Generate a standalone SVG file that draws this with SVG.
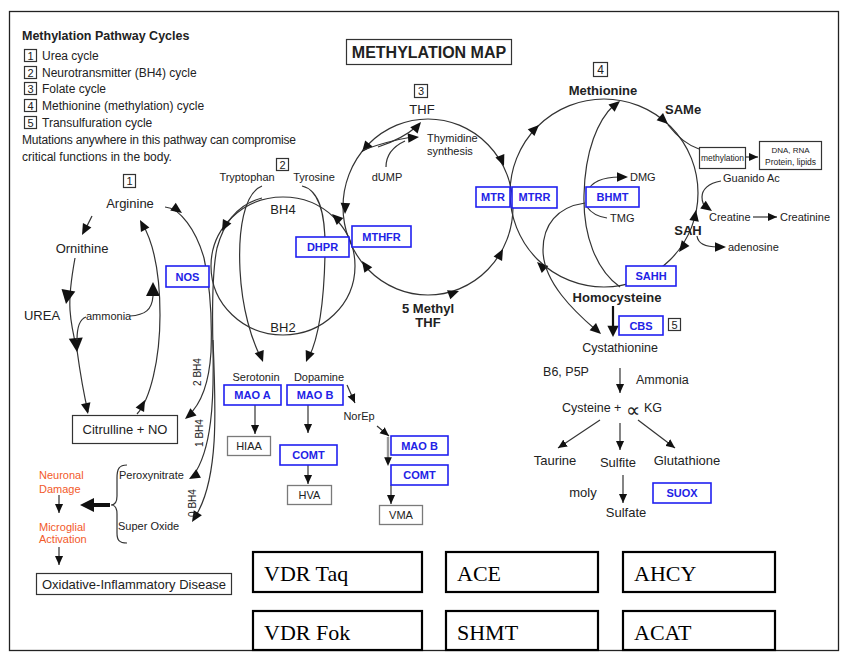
<svg xmlns="http://www.w3.org/2000/svg" xmlns:xlink="http://www.w3.org/1999/xlink" width="849" height="660" viewBox="0 0 849 660">
<style>
text{font-family:"Liberation Sans",Arial,"DejaVu Sans",sans-serif;fill:#222}
.s10{font-size:10px}.s11{font-size:11px}.s12{font-size:12px}.s13{font-size:13px}
.b{font-weight:bold}.c{text-anchor:middle}
.bx{fill:#fff;stroke:#2020f0;stroke-width:1.6}
.bt{font-size:11px;font-weight:bold;fill:#2222e6;text-anchor:middle}
.gb{fill:#fff;stroke:#7a7a7a;stroke-width:1.3}
.kb{fill:#fff;stroke:#333;stroke-width:1.2}
.ln{fill:none;stroke:#333;stroke-width:1.2}
.big{font-family:"Liberation Serif","Times New Roman",serif;font-size:22px;fill:#000}
.bb{fill:#fff;stroke:#000;stroke-width:2.2}
.org{fill:#f25a2a;font-size:11px}
</style>
<defs>
<path id="ah" d="M0,0 L-11,-4.8 L-11,4.8 Z" fill="#111"/>
<path id="ahb" d="M0,0 L-14,-7 L-14,7 Z" fill="#111"/>
<marker id="ar" viewBox="0 0 10 10" refX="10" refY="5" markerWidth="9" markerHeight="9" markerUnits="userSpaceOnUse" orient="auto"><path d="M0,0.5 L10,5 L0,9.5 Z" fill="#111"/></marker>
</defs>
<rect x="9.5" y="11.5" width="829" height="639" fill="none" stroke="#222" stroke-width="1.3"/>

<g id="legend">
<text x="22" y="40" class="b" style="font-size:12.5px">Methylation Pathway Cycles</text>
<rect x="24.5" y="49.5" width="12" height="12" class="kb"/><text x="30.5" y="59.5" class="c s11">1</text><text x="42" y="59.5" class="s12">Urea cycle</text>
<rect x="24.5" y="66.5" width="12" height="12" class="kb"/><text x="30.5" y="76.5" class="c s11">2</text><text x="42" y="76.5" class="s12">Neurotransmitter (BH4) cycle</text>
<rect x="24.5" y="82.5" width="12" height="12" class="kb"/><text x="30.5" y="92.5" class="c s11">3</text><text x="42" y="92.5" class="s12">Folate cycle</text>
<rect x="24.5" y="99.5" width="12" height="12" class="kb"/><text x="30.5" y="109.5" class="c s11">4</text><text x="42" y="109.5" class="s12">Methionine (methylation) cycle</text>
<rect x="24.5" y="116.5" width="12" height="12" class="kb"/><text x="30.5" y="126.5" class="c s11">5</text><text x="42" y="126.5" class="s12">Transulfuration cycle</text>
<text x="22" y="144" class="s12" textLength="274">Mutations anywhere in this pathway can compromise</text>
<text x="22" y="161" class="s12">critical functions in the body.</text>
</g>

<g id="title"><rect x="346.5" y="39.5" width="165" height="25" class="kb"/><text x="429" y="58" class="c b" style="font-size:16px">METHYLATION MAP</text></g>

<g id="connectors">
<ellipse cx="283" cy="266" rx="72" ry="69" class="ln"/>
<ellipse cx="428" cy="207" rx="85" ry="88" class="ln"/>
<circle cx="604" cy="193" r="94" class="ln"/>
<path d="M92,216 Q88,224 85,230" class="ln"/>
<use href="#ah" transform="translate(82 235) rotate(118)"/>
<path d="M75,258 C71,280 69,295 70,310 C71,325 74,338 77,350 C80,372 84,395 88,412" class="ln"/>
<use href="#ahb" transform="translate(66 304) rotate(100)"/>
<use href="#ahb" transform="translate(77 352) rotate(85)"/>
<use href="#ah" transform="translate(88 414) rotate(78)"/>
<path d="M77,340 C77,326 80,319 86,317" class="ln"/>
<path d="M130,316 C145,315 152,310 153,296 L153,285" class="ln"/>
<use href="#ahb" transform="translate(153 282) rotate(-90)"/>
<path d="M137,414 C150,400 160,360 160,315 C160,270 152,240 142,223" class="ln"/>
<use href="#ah" transform="translate(145 400) rotate(-62)"/>
<use href="#ah" transform="translate(140 220) rotate(-118)"/>
<path d="M165,207 C180,208 196,230 204,258 C211,290 212,325 211,352 C209,385 200,405 188,416" class="ln"/>
<use href="#ah" transform="translate(182 213) rotate(35)"/>
<use href="#ah" transform="translate(185 419) rotate(140)"/>
<path d="M262,198 C238,204 224,222 217,248 C212,272 212,310 213,350 C214,400 212,450 193,476" class="ln"/>
<use href="#ah" transform="translate(222 231) rotate(118)"/>
<use href="#ah" transform="translate(189 479) rotate(150)"/>
<path d="M213,340 C216,410 219,480 195,517" class="ln"/>
<use href="#ah" transform="translate(192 522) rotate(122)"/>
<use href="#ah" transform="translate(332 214) rotate(-137)"/>
<path d="M262,186 C244,193 238,230 240,270 C242,310 252,340 260,356" class="ln"/>
<use href="#ah" transform="translate(263 362) rotate(70)"/>
<path d="M302,186 C320,190 326,215 325,255 C324,300 320,335 309,357" class="ln"/>
<use href="#ah" transform="translate(306 362) rotate(112)"/>
<use href="#ah" transform="translate(345 214) rotate(92)"/>
<use href="#ah" transform="translate(362 152) rotate(129)"/>
<use href="#ah" transform="translate(504 166) rotate(68)"/>
<use href="#ah" transform="translate(503 249) rotate(-62)"/>
<use href="#ah" transform="translate(459 291) rotate(-20)"/>
<use href="#ah" transform="translate(362 261) rotate(-125)"/>
<path d="M363,150 C385,142 400,139 412,137" class="ln"/>
<use href="#ah" transform="translate(419 137) rotate(-5)"/>
<path d="M386,167 C386,155 392,147 405,141" class="ln"/>
<path d="M378,147 C396,141 408,134 416,127" class="ln"/>
<use href="#ah" transform="translate(421 122) rotate(-50)"/>
<use href="#ah" transform="translate(539 125) rotate(-44)"/>
<path d="M620,287 C596,270 583,235 584,195 C585,150 598,120 614,105" class="ln"/>
<use href="#ah" transform="translate(620 101) rotate(-40)"/>
<use href="#ah" transform="translate(668 124) rotate(42)"/>
<use href="#ah" transform="translate(696 210) rotate(-80)"/>
<use href="#ah" transform="translate(679 252) rotate(127)"/>
<use href="#ah" transform="translate(537 262) rotate(-137)"/>
<path d="M668,125 C680,140 690,146 699,149" class="ln"/>
<path d="M745,157 L758,157" class="ln" marker-end="url(#ar)"/>
<path d="M721,181 C708,183 702,190 702,197 C702,203 704,206 707,208" class="ln"/>
<use href="#ah" transform="translate(712 211) rotate(35)"/>
<path d="M753,217 L777,217" class="ln" marker-end="url(#ar)"/>
<path d="M697,236 C698,244 705,247 718,247" class="ln"/>
<use href="#ah" transform="translate(726 247)"/>
<path d="M587,192 C592,180 605,177 620,177" class="ln"/>
<use href="#ah" transform="translate(628 177)"/>
<path d="M587,207 C592,214 600,217 607,218" class="ln"/>
<path d="M585,203 C557,207 543,225 543,250 C543,282 575,312 596,330" class="ln"/>
<use href="#ah" transform="translate(601 334) rotate(42)"/>
<path d="M613,306 L613,326" fill="none" stroke="#111" stroke-width="2.2"/>
<use href="#ahb" transform="translate(613 337) rotate(90) scale(0.8)"/>
<path d="M620,368 L620,393" class="ln" marker-end="url(#ar)"/>
<path d="M600,420 L558,448" class="ln" marker-end="url(#ar)"/>
<path d="M620,423 L620,450" class="ln" marker-end="url(#ar)"/>
<path d="M638,420 L675,448" class="ln" marker-end="url(#ar)"/>
<path d="M623,475 L623,503" class="ln" marker-end="url(#ar)"/>
<path d="M255,405 L255,434" class="ln" marker-end="url(#ar)"/>
<path d="M308,405 L308,433" class="ln" marker-end="url(#ar)"/>
<path d="M308,465 L308,484" class="ln" marker-end="url(#ar)"/>
<path d="M347,385 L355,403" class="ln" marker-end="url(#ar)"/>
<path d="M377,426 L389,436" class="ln" marker-end="url(#ar)"/>
<path d="M388,437 L388,463" fill="none" stroke="#999" stroke-width="2.4"/>
<use href="#ah" transform="translate(388 466) rotate(90) scale(0.8)"/>
<path d="M391,485 L391,504" class="ln" marker-end="url(#ar)"/>
<path d="M127,465 C119,465 117,469 117,478 L117,496 C117,502 115,505 111,505 C115,505 117,508 117,514 L117,533 C117,540 119,543 127,543" class="ln"/>
<path d="M110,505 L92,505" fill="none" stroke="#111" stroke-width="4"/>
<use href="#ahb" transform="translate(80 505) rotate(180)"/>
<path d="M59,495 L59,513" class="ln" marker-end="url(#ar)"/>
<path d="M59,547 L59,565" class="ln" marker-end="url(#ar)"/>
</g>

<g id="urea-cycle">
<rect x="123.5" y="174.5" width="12" height="13" class="kb"/><text x="129.5" y="185" class="c s11">1</text>
<text x="130" y="208" class="c s13">Arginine</text>
<text x="82" y="253" class="c s13">Ornithine</text>
<text x="42" y="320" class="c s13">UREA</text>
<text x="86" y="320" class="s11">ammonia</text>
</g>
<g id="nos"><rect x="166" y="266" width="43" height="21" class="bx"/><text x="187.5" y="281" class="bt">NOS</text></g>
<g id="citrulline"><rect x="72.5" y="415.5" width="105" height="28" class="kb"/><text x="125" y="434" class="c s13">Citrulline + NO</text></g>
<g id="bh4-labels">
<text transform="translate(201 372) rotate(-90)" class="c s10">2 BH4</text>
<text transform="translate(203 433) rotate(-90)" class="c s10">1 BH4</text>
<text transform="translate(196 503) rotate(-90)" class="c s10">0 BH4</text>
</g>
<g id="oxidative">
<text x="119" y="479" class="s11">Peroxynitrate</text>
<text x="118" y="530" class="s11">Super Oxide</text>
<text x="39" y="479" class="org">Neuronal</text>
<text x="39" y="493" class="org">Damage</text>
<text x="39" y="531" class="org">Microglial</text>
<text x="39" y="543" class="org">Activation</text>
</g>
<g id="disease"><rect x="36.5" y="573.5" width="195" height="21" class="kb"/><text x="134" y="589" class="c s13">Oxidative-Inflammatory Disease</text></g>

<g id="bh4-cycle">
<rect x="276.5" y="158.5" width="12" height="12" class="kb"/><text x="282.5" y="168.5" class="c s11">2</text>
<text x="247" y="181" class="c s11">Tryptophan</text>
<text x="314" y="181" class="c s11">Tyrosine</text>
<text x="283" y="214" class="c s13">BH4</text>
<text x="283" y="332" class="c s13">BH2</text>
</g>
<g id="dhpr"><rect x="296" y="237" width="53" height="20" class="bx"/><text x="322.5" y="251" class="bt">DHPR</text></g>
<g id="mthfr"><rect x="352" y="226" width="59" height="21" class="bx"/><text x="381.5" y="241" class="bt">MTHFR</text></g>
<g id="neuro">
<text x="256" y="381" class="c s11">Serotonin</text>
<text x="319" y="381" class="c s11">Dopamine</text>
<text x="359" y="420" class="c s11">NorEp</text>
</g>
<g id="mao-a"><rect x="224" y="385" width="57" height="20" class="bx"/><text x="252.5" y="399" class="bt">MAO A</text></g>
<g id="mao-b"><rect x="287" y="385" width="56" height="20" class="bx"/><text x="315" y="399" class="bt">MAO B</text></g>
<g id="hiaa"><rect x="227.5" y="436.5" width="43" height="19" class="gb"/><text x="249" y="450" class="c s11">HIAA</text></g>
<g id="comt"><rect x="280" y="445" width="57" height="20" class="bx"/><text x="308.5" y="459" class="bt">COMT</text></g>
<g id="hva"><rect x="287.5" y="485.5" width="44" height="19" class="gb"/><text x="309.5" y="499" class="c s11">HVA</text></g>
<g id="mao-b2"><rect x="391" y="436" width="57" height="19" class="bx"/><text x="419.5" y="450" class="bt">MAO B</text></g>
<g id="comt2"><rect x="391" y="465" width="57" height="20" class="bx"/><text x="419.5" y="479" class="bt">COMT</text></g>
<g id="vma"><rect x="379.5" y="505.5" width="43" height="19" class="gb"/><text x="401" y="519" class="c s11">VMA</text></g>

<g id="folate-cycle">
<rect x="414.5" y="84.5" width="13" height="13" class="kb"/><text x="421" y="95" class="c s11">3</text>
<text x="422" y="114" class="c s13">THF</text>
<text x="427" y="142" class="s11">Thymidine</text>
<text x="427" y="155" class="s11">synthesis</text>
<text x="387" y="181" class="c s11">dUMP</text>
<text x="428" y="313" class="c s13 b">5 Methyl</text>
<text x="428" y="327" class="c s13 b">THF</text>
</g>
<g id="mtr"><rect x="476" y="187" width="34" height="20" class="bx"/><text x="493" y="201" class="bt">MTR</text></g>
<g id="mtrr"><rect x="512" y="187" width="45" height="21" class="bx"/><text x="534.5" y="201" class="bt">MTRR</text></g>

<g id="methionine-cycle">
<rect x="593.5" y="62.5" width="14" height="14" class="kb"/><text x="600.5" y="74" class="c s12">4</text>
<text x="603" y="95" class="c s13 b">Methionine</text>
<text x="665" y="114" class="s13 b">SAMe</text>
<text x="688" y="235" class="c s13 b">SAH</text>
<text x="630" y="181" class="s11">DMG</text>
<text x="610" y="222" class="s11">TMG</text>
<text x="723" y="182" class="s11">Guanido Ac</text>
<text x="709" y="221" class="s11">Creatine</text>
<text x="780" y="221" class="s11" textLength="50">Creatinine</text>
<text x="728" y="251" class="s11">adenosine</text>
<text x="617" y="302" class="c s13 b">Homocysteine</text>
</g>
<g id="methylation"><rect x="699.5" y="147.5" width="46" height="21" class="kb"/><text x="722.5" y="161" class="c" style="font-size:8.5px" textLength="43">methylation</text></g>
<g id="dna"><rect x="759.5" y="141.5" width="62" height="28" class="kb"/><text x="790.5" y="153" class="c" style="font-size:8px">DNA, RNA</text><text x="790.5" y="165" class="c" style="font-size:8.5px">Protein, lipids</text></g>
<g id="bhmt"><rect x="586" y="187" width="53" height="20" class="bx"/><text x="612.5" y="201" class="bt">BHMT</text></g>
<g id="sahh"><rect x="626" y="266" width="50" height="20" class="bx"/><text x="651" y="280" class="bt">SAHH</text></g>
<g id="cbs"><rect x="619" y="316" width="44" height="19" class="bx"/><text x="641" y="330" class="bt">CBS</text><rect x="668.5" y="318.5" width="12" height="12" class="kb"/><text x="674.5" y="328.5" class="c s11">5</text></g>

<g id="transsulfuration">
<text x="620" y="352" class="c" style="font-size:12.5px">Cystathionine</text>
<text x="566" y="376" class="c" style="font-size:12.5px">B6, P5P</text>
<text x="636" y="384" style="font-size:12.5px">Ammonia</text>
<text x="562" y="412" style="font-size:12.5px">Cysteine +</text>
<text x="626" y="417" style="font-family:'DejaVu Sans',sans-serif;font-size:20px">∝</text>
<text x="644" y="412" style="font-size:12.5px">KG</text>
<text x="555" y="465" class="c s13">Taurine</text>
<text x="618" y="467" class="c s13">Sulfite</text>
<text x="687" y="465" class="c s13">Glutathione</text>
<text x="583" y="497" class="c s13">moly</text>
<text x="626" y="517" class="c s13">Sulfate</text>
</g>
<g id="suox"><rect x="653" y="483" width="58" height="20" class="bx"/><text x="682" y="497" class="bt">SUOX</text></g>

<g id="vdr-taq"><rect x="253" y="552" width="169" height="40" class="bb"/><text x="264" y="581" class="big">VDR Taq</text></g>
<g id="ace"><rect x="446" y="552" width="152" height="40" class="bb"/><text x="457" y="581" class="big">ACE</text></g>
<g id="ahcy"><rect x="623" y="552" width="152" height="40" class="bb"/><text x="634" y="581" class="big">AHCY</text></g>
<g id="vdr-fok"><rect x="253" y="611" width="169" height="39" class="bb"/><text x="264" y="640" class="big">VDR Fok</text></g>
<g id="shmt"><rect x="446" y="611" width="152" height="39" class="bb"/><text x="457" y="640" class="big">SHMT</text></g>
<g id="acat"><rect x="623" y="611" width="152" height="39" class="bb"/><text x="634" y="640" class="big">ACAT</text></g>
</svg>
